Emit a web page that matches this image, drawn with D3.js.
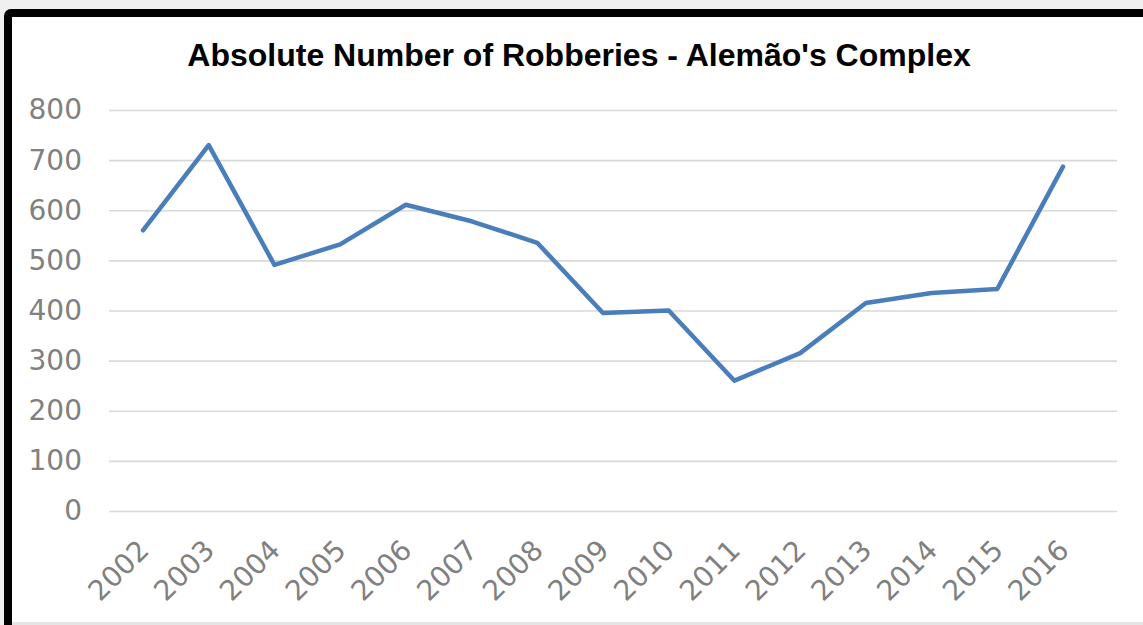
<!DOCTYPE html>
<html>
<head>
<meta charset="utf-8">
<script src="https://cdn.jsdelivr.net/npm/d3@7"></script>
<style>
  body { margin: 0; background: #f0f0f0; }
  svg { display: block; }
</style>
</head>
<body>
<div id="chart"></div>
<script>
// data
let years = ["2002","2003","2004","2005","2006","2007","2008","2009","2010","2011","2012","2013","2014","2015","2016"];
let robberies = [560, 730, 491, 532, 611, 578, 535, 395, 400, 260, 315, 415, 435, 443, 687];
let yTicks = [0, 100, 200, 300, 400, 500, 600, 700, 800];
let title = "Absolute Number of Robberies - Alemão's Complex";

let width = 1143;
let height = 625;
let plot = ({ left: 109, right: 1117, top: 110, bottom: 511 });

let data = years.map((y, i) => ({ year: y, value: robberies[i] }));

let svg = d3.select("#chart")
    .append("svg")
    .attr("width", width)
    .attr("height", height);

// frame
svg.append("rect")
    .attr("x", 0).attr("y", 0)
    .attr("width", width).attr("height", height)
    .attr("fill", "#f0f0f0");
svg.append("rect")
    .attr("x", 8).attr("y", 13)
    .attr("width", 1200).attr("height", 700)
    .attr("fill", "white")
    .attr("stroke", "black")
    .attr("stroke-width", 8)
    .attr("rx", 3);
svg.append("rect")
    .attr("x", 12).attr("y", 622)
    .attr("width", width).attr("height", 3)
    .attr("fill", "#e6e6e6");

let xScale = d3.scalePoint()
    .domain(years)
    .range([143, 1063]);

let yScale = d3.scaleLinear()
    .domain([0, 800])
    .range([plot.bottom, plot.top]);

let yAxis = g =>
    g.attr("transform", `translate(${plot.left},0)`)
        .call(d3.axisLeft(yScale).tickValues(yTicks).tickSize(-(plot.right - plot.left)).tickPadding(27))
        .call(g => g.select(".domain").remove())
        .call(g => g.selectAll(".tick line")
            .attr("stroke", "#d9d9d9")
            .attr("stroke-width", 1.6))
        .call(g => g.selectAll(".tick text")
            .attr("fill", "#808080")
            .attr("font-family", "DejaVu Sans")
            .attr("font-size", 28));

let xAxis = g =>
    g.attr("transform", `translate(0,${plot.bottom})`)
        .call(d3.axisBottom(xScale).tickSize(0))
        .call(g => g.select(".domain").remove())
        .call(g => g.selectAll(".tick text")
            .attr("fill", "#808080")
            .attr("font-family", "DejaVu Sans")
            .attr("font-size", 28)
            .attr("text-anchor", "end")
            .attr("dy", 0)
            .attr("y", 0)
            .attr("transform", "translate(7,41) rotate(-45)"));

svg.append("g").call(yAxis);
svg.append("g").call(xAxis);

// title
svg.append("text")
    .attr("x", 579)
    .attr("y", 66)
    .attr("text-anchor", "middle")
    .attr("font-family", "Liberation Sans, Arial, sans-serif")
    .attr("font-weight", "bold")
    .attr("font-size", 32)
    .attr("fill", "black")
    .text(title);

let line = d3.line()
    .x(d => xScale(d.year))
    .y(d => yScale(d.value));

svg.append("path")
    .datum(data)
    .attr("fill", "none")
    .attr("stroke", "#4a7ebb")
    .attr("stroke-width", 4.5)
    .attr("stroke-linejoin", "round")
    .attr("stroke-linecap", "round")
    .attr("d", line);
</script>
</body>
</html>
